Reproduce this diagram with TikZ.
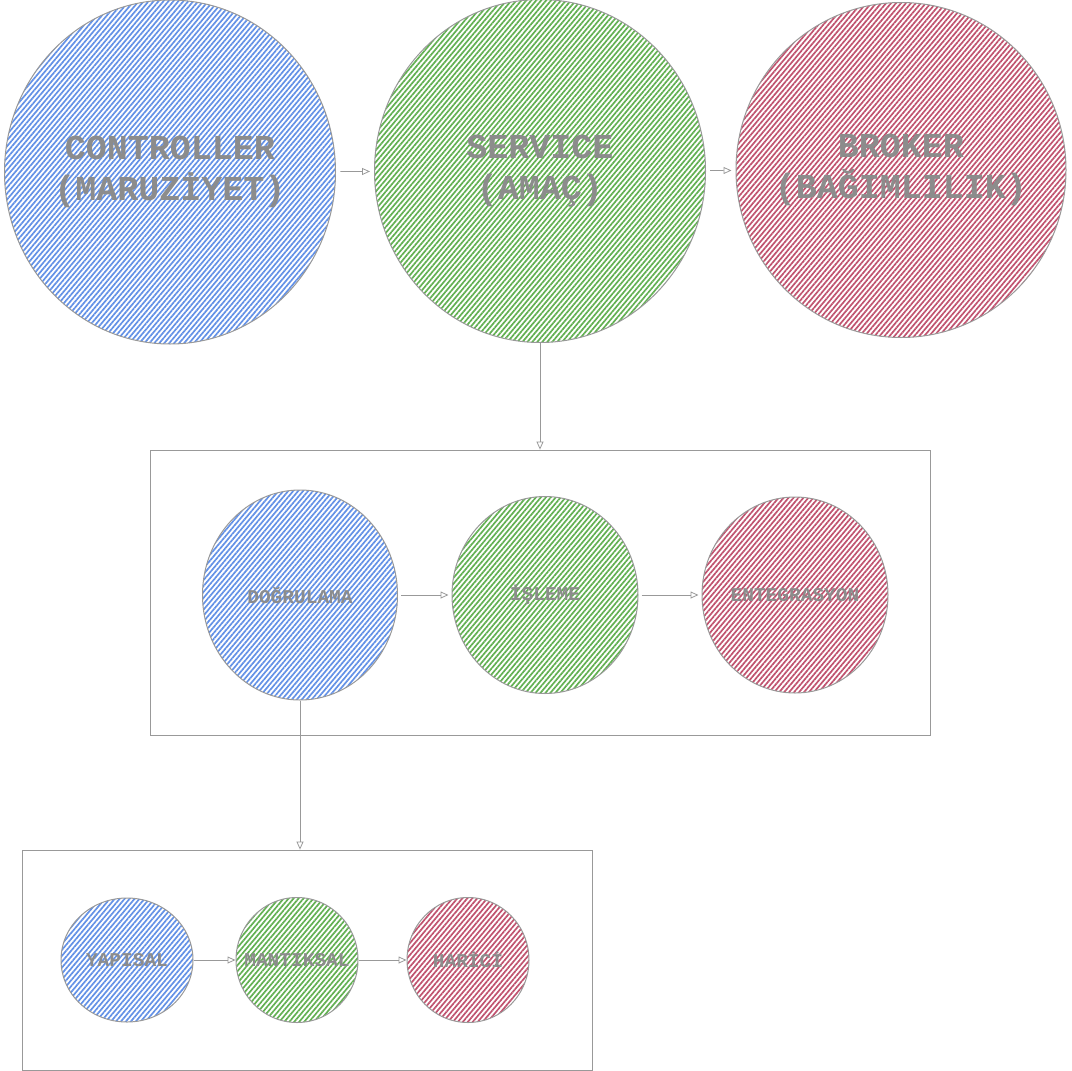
\documentclass[tikz,border=0pt]{standalone}
\usepackage{fontspec}
\newfontfamily\diagfont{Liberation Mono}
\usetikzlibrary{shapes.geometric,patterns.meta,arrows.meta}
\definecolor{hblue}{HTML}{6391E6}
\definecolor{hgreen}{HTML}{62B052}
\definecolor{hred}{HTML}{C0536F}
\definecolor{edge}{HTML}{999999}
\definecolor{txt}{HTML}{8C8C8C}
\tikzset{
  blob/.style={ellipse, draw=edge, line width=1pt, inner sep=0pt},
  lbl/.style={inner sep=0pt, text=txt, align=center},
  bigfont/.style={font=\diagfont\bfseries\fontsize{35}{41}\selectfont},
  smallfont/.style={font=\diagfont\bfseries\fontsize{19.5}{24}\selectfont},
  fb/.style={pattern={Lines[angle=50,distance=3.8pt,line width=1.7pt]}, pattern color=hblue},
  fg/.style={pattern={Lines[angle=50,distance=3.8pt,line width=1.7pt]}, pattern color=hgreen},
  fr/.style={pattern={Lines[angle=50,distance=3.8pt,line width=1.7pt]}, pattern color=hred},
  frame/.style={rectangle, draw=edge, line width=0.8pt, inner sep=0pt},
  conn/.style={draw=edge, line width=0.8pt, -{Triangle[open,length=8pt,width=7pt]}},
}
\begin{document}
\begin{tikzpicture}[x=1pt,y=-1pt]
\useasboundingbox (0,0) rectangle (1071,1071);
% top level
\node[blob,fb,minimum width=331pt,minimum height=344pt] (ctrl) at (170,172) {};
\node[blob,fg,minimum width=331pt,minimum height=343pt] (svc) at (540,171) {};
\node[blob,fr,minimum width=330pt,minimum height=335pt] (brk) at (901,170) {};
\node[lbl,bigfont] (ctrlt) at (ctrl.center) {CONTROLLER\\(MARUZİYET)};
\node[lbl,bigfont] (svct) at (svc.center) {SERVICE\\(AMAÇ)};
\node[lbl,bigfont] (brkt) at (brk.center) {BROKER\\(BAĞIMLILIK)};
\draw[conn, shorten <=4pt, shorten >=4pt] (ctrl) -- (svc);
\draw[conn, shorten <=4pt, shorten >=4pt] (svc) -- (brk);
% middle box
\node[frame,minimum width=780pt,minimum height=285pt] (box1) at (540,592.5) {};
\draw[conn] (svc.south) -- (svc.south |- box1.north);
\node[blob,fb,minimum width=195pt,minimum height=210pt] (dog) at (300,595) {};
\node[blob,fg,minimum width=186pt,minimum height=197pt] (isl) at (545,595) {};
\node[blob,fr,minimum width=186pt,minimum height=196pt] (ent) at (795,595) {};
\node[lbl,smallfont] (dogt) at (dog.center) {DOĞRULAMA};
\node[lbl,smallfont] (islt) at (isl.center) {İŞLEME};
\node[lbl,smallfont] (entt) at (ent.center) {ENTEGRASYON};
\draw[conn, shorten <=3pt, shorten >=3pt] (dog) -- (isl);
\draw[conn, shorten <=3pt, shorten >=3pt] (isl) -- (ent);
% bottom box
\node[frame,minimum width=570pt,minimum height=220pt] (box2) at (307,960) {};
\draw[conn] (dog.south) -- (dog.south |- box2.north);
\node[blob,fb,minimum width=132pt,minimum height=124pt] (yap) at (127,960) {};
\node[blob,fg,minimum width=122pt,minimum height=125pt] (man) at (297,960) {};
\node[blob,fr,minimum width=122pt,minimum height=125pt] (har) at (468,960) {};
\node[lbl,smallfont] (yapt) at (yap.center) {YAPISAL};
\node[lbl,smallfont] (mant) at (man.center) {MANTIKSAL};
\node[lbl,smallfont] (hart) at (har.center) {HARİCİ};
\draw[conn] (yap) -- (man);
\draw[conn] (man) -- (har);
\end{tikzpicture}
\end{document}
